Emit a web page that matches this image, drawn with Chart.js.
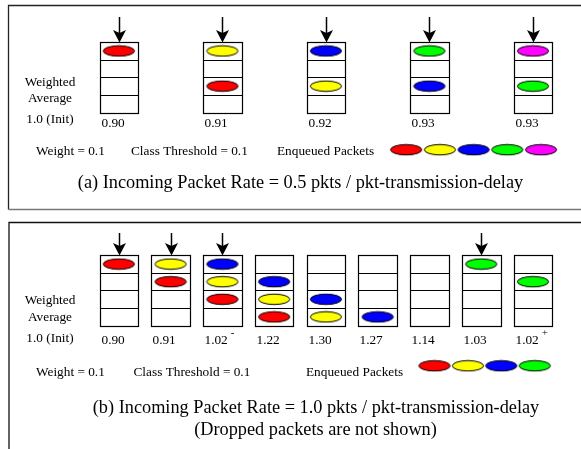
<!DOCTYPE html>
<html>
<head>
<meta charset="utf-8">
<script src="https://cdn.jsdelivr.net/npm/chart.js@4"></script>
<style>
html,body{margin:0;padding:0;background:#fff;}
canvas{display:block;}
</style>
</head>
<body>
<canvas id="c" width="581" height="449"></canvas>
<script>
// ---------------- DATA ----------------
// packet classes and their colours
const classColors = {R: '#ff0000', Y: '#ffff00', B: '#0000ff', G: '#00ff00', M: '#ff00ff'};

// (a) 0.5 pkts / transmission delay : queue snapshots (slot 0 = top … slot 3 = bottom)
const stepsA    = [0, 2, 4, 6, 8];
const queueA    = [['R','','',''], ['Y','','R',''], ['B','','Y',''], ['G','','B',''], ['M','','G','']];
const arrivalsA = [0, 2, 4, 6, 8];
const avgA      = ['0.90', '0.91', '0.92', '0.93', '0.93'];
const legendA   = ['R', 'Y', 'B', 'G', 'M'];

// (b) 1.0 pkts / transmission delay
const stepsB    = [0, 1, 2, 3, 4, 5, 6, 7, 8];
const queueB    = [['R','','',''], ['Y','R','',''], ['B','Y','R',''], ['','B','Y','R'], ['','','B','Y'],
                   ['','','','B'], ['','','',''], ['G','','',''], ['','G','','']];
const arrivalsB = [0, 1, 2, 7];
const avgB      = ['0.90', '0.91', '1.02', '1.22', '1.30', '1.27', '1.14', '1.03', '1.02'];
const markB     = ['', '', '-', '', '', '', '', '', '+'];
const legendB   = ['R', 'Y', 'B', 'G'];

const SLOTS = 4;

// ---------------- LAYOUT ----------------
const W = 581, H = 449;
const STEP_PX = 52.67, STEP0_PX = 115.85;   // x: time-step scale
const ROW_PX = 18, TOP_A = 38, TOP_B = 256; // y: slot scales
const BOX_HALF = 19.3;
const SERIF = '"Liberation Serif", "Times New Roman", serif';
const SMALL = '13.3px ' + SERIF;
const BIG = '18.3px ' + SERIF;

const legendPosA = {x0: (408.2 - STEP0_PX) / STEP_PX, dx: 34.3 / STEP_PX, y: (148 - TOP_A) / ROW_PX};
const legendPosB = {x0: (437.0 - STEP0_PX) / STEP_PX, dx: 34.0 / STEP_PX, y: (369 - TOP_B) / ROW_PX};

function ellipseImg(color) {
  const c = document.createElement('canvas');
  c.width = 34; c.height = 13;
  const g = c.getContext('2d');
  g.beginPath();
  g.ellipse(17, 6.5, 15.6, 5.2, 0, 0, Math.PI * 2);
  g.fillStyle = color; g.fill();
  g.lineWidth = 1; g.strokeStyle = '#000'; g.stroke();
  return c;
}

// build datasets: one per class per panel, plus legend keys
const datasets = [];
function addPanel(steps, queue, axis, legend, lp) {
  Object.keys(classColors).forEach(k => {
    const pts = [];
    steps.forEach((s, i) => queue[i].forEach((c, slot) => { if (c === k) pts.push({x: s, y: slot + 0.5}); }));
    const li = legend.indexOf(k);
    if (li >= 0) pts.push({x: lp.x0 + li * lp.dx, y: lp.y});
    if (pts.length) datasets.push({
      label: axis + k, data: pts, yAxisID: axis,
      pointStyle: ellipseImg(classColors[k]), pointRadius: 4, pointHoverRadius: 4
    });
  });
}
addPanel(stepsA, queueA, 'ya', legendA, legendPosA);
addPanel(stepsB, queueB, 'yb', legendB, legendPosB);

function text(ctx, s, x, y, font, align) {
  ctx.font = font; ctx.textAlign = align || 'left'; ctx.textBaseline = 'middle';
  ctx.fillStyle = '#000'; ctx.fillText(s, x, y);
}

const diagram = {
  id: 'diagram',
  beforeDatasetsDraw(chart) {
    const ctx = chart.ctx, xs = chart.scales.x;
    ctx.save();
    // panel frames
    ctx.lineWidth = 1.3;
    ctx.strokeStyle = '#222';
    ctx.beginPath(); ctx.moveTo(8.5, 209.5); ctx.lineTo(8.5, 5.5); ctx.lineTo(W + 2, 5.5); ctx.stroke();
    ctx.strokeStyle = '#777';
    ctx.beginPath(); ctx.moveTo(8.5, 209.5); ctx.lineTo(W + 2, 209.5); ctx.stroke();
    ctx.strokeStyle = '#111';
    ctx.beginPath(); ctx.moveTo(9, H + 2); ctx.lineTo(9, 222.5); ctx.lineTo(W + 2, 222.5); ctx.stroke();

    function panel(steps, axis, arrivals, avgs, marks, yAvg, yArrowTop) {
      const ys = chart.scales[axis];
      ctx.strokeStyle = '#000'; ctx.lineWidth = 1.2;
      steps.forEach((s, i) => {
        const cx = xs.getPixelForValue(s);
        const l = Math.round(cx - BOX_HALF) + 0.5, r = Math.round(cx + BOX_HALF) + 0.5;
        const t = ys.getPixelForValue(0), b = ys.getPixelForValue(SLOTS);
        ctx.strokeRect(l, Math.round(t) + 0.5, r - l, Math.round(b) - Math.round(t));
        for (let k = 1; k < SLOTS; k++) {
          const y = Math.round(ys.getPixelForValue(k)) + 0.5;
          ctx.beginPath(); ctx.moveTo(l, y); ctx.lineTo(r, y); ctx.stroke();
        }
        text(ctx, avgs[i], l + 1, yAvg, SMALL);
        if (marks && marks[i]) {
          ctx.font = SMALL;
          const w = ctx.measureText(avgs[i]).width;
          text(ctx, marks[i], l + 1 + w + 3, yAvg - 8, '11px ' + SERIF);
        }
      });
      // arrivals arrows
      arrivals.forEach(s => {
        const cx = Math.round(xs.getPixelForValue(s)) + 0.5;
        const tip = Math.round(ys.getPixelForValue(0));
        ctx.lineWidth = 1.5;
        ctx.beginPath(); ctx.moveTo(cx, yArrowTop); ctx.lineTo(cx, tip - 6); ctx.stroke();
        ctx.beginPath();
        ctx.moveTo(cx, tip + 0.5); ctx.lineTo(cx - 6.5, tip - 12); ctx.lineTo(cx, tip - 9); ctx.lineTo(cx + 6.5, tip - 12);
        ctx.closePath(); ctx.fillStyle = '#000'; ctx.fill();
      });
    }
    panel(stepsA, 'ya', arrivalsA, avgA, null, 123.5, 17);
    panel(stepsB, 'yb', arrivalsB, avgB, markB, 341, 233);

    // side labels
    [[82.5, 99, 120], [301, 317.5, 338.5]].forEach(ys => {
      text(ctx, 'Weighted', 50, ys[0], SMALL, 'center');
      text(ctx, 'Average', 50, ys[1], SMALL, 'center');
      text(ctx, '1.0 (Init)', 50, ys[2], SMALL, 'center');
    });
    // parameter rows
    text(ctx, 'Weight = 0.1', 36, 152, SMALL);
    text(ctx, 'Class Threshold = 0.1', 131, 152, SMALL);
    text(ctx, 'Enqueued Packets', 277, 152, SMALL);
    text(ctx, 'Weight = 0.1', 36, 373, SMALL);
    text(ctx, 'Class Threshold = 0.1', 133.5, 373, SMALL);
    text(ctx, 'Enqueued Packets', 306, 373, SMALL);
    // captions
    text(ctx, '(a) Incoming Packet Rate = 0.5 pkts / pkt-transmission-delay', 300.5, 183, BIG, 'center');
    text(ctx, '(b) Incoming Packet Rate = 1.0 pkts / pkt-transmission-delay', 316, 408, BIG, 'center');
    text(ctx, '(Dropped packets are not shown)', 315.5, 430, BIG, 'center');
    ctx.restore();
  }
};

new Chart(document.getElementById('c'), {
  type: 'scatter',
  data: {datasets},
  options: {
    responsive: false, animation: false, devicePixelRatio: 1,
    layout: {padding: 0},
    plugins: {legend: {display: false}, tooltip: {enabled: false}},
    events: [],
    scales: {
      x:  {type: 'linear', display: false, min: -STEP0_PX / STEP_PX, max: (W - STEP0_PX) / STEP_PX},
      ya: {type: 'linear', display: false, reverse: true, min: -TOP_A / ROW_PX, max: (H - TOP_A) / ROW_PX},
      yb: {type: 'linear', display: false, reverse: true, min: -TOP_B / ROW_PX, max: (H - TOP_B) / ROW_PX}
    }
  },
  plugins: [diagram]
});
</script>
</body>
</html>
